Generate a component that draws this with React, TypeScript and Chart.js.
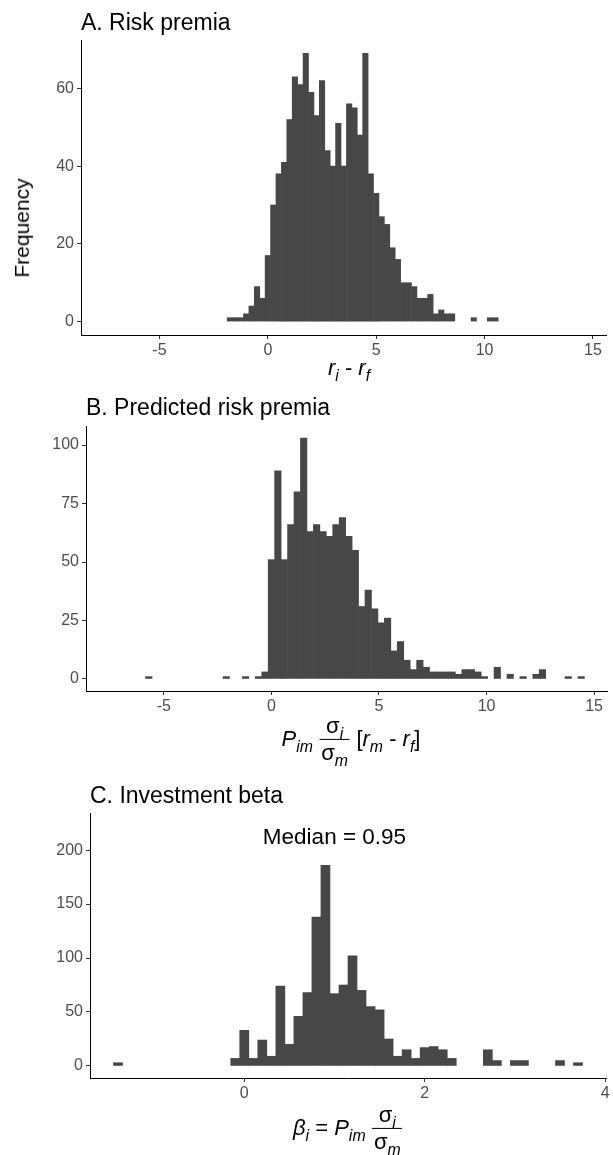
import React, { useEffect, useRef } from 'react';
import { Chart, registerables } from 'chart.js';

Chart.register(...registerables);

// ---------- Data ----------
// Panel A: risk premia histogram (bin centres, counts)
const riskPremiaBins = [
  -1.75, -1.5, -1.25, -1, -0.75, -0.5, -0.25, 0, 0.25, 0.5, 0.75, 1, 1.25, 1.5, 1.75, 2, 2.25, 2.5, 2.75, 3,
  3.25, 3.5, 3.75, 4, 4.25, 4.5, 4.75, 5, 5.25, 5.5, 5.75, 6, 6.25, 6.5, 6.75, 7, 7.25, 7.5, 7.75, 8,
  8.25, 8.5, 9.5, 10.25, 10.5,
];
const riskPremiaCounts = [
  1, 1, 1, 2, 4, 9, 6, 17, 30, 38, 41, 52, 63, 61, 69, 59, 53, 62, 44, 40,
  51, 40, 56, 55, 48, 69, 38, 33, 27, 25, 19, 16, 10, 10, 9, 6, 6, 7, 2, 3,
  2, 2, 1, 1, 1,
];
const riskPremiaYTicks = [0, 20, 40, 60];

// Panel B: predicted risk premia
const predictedBins = [
  -5.7, -2.1, -1.2, -0.6, -0.3, 0, 0.3, 0.6, 0.9, 1.2, 1.5, 1.8, 2.1, 2.4, 2.7, 3, 3.3, 3.6, 3.9, 4.2,
  4.5, 4.8, 5.1, 5.4, 5.7, 6, 6.3, 6.6, 6.9, 7.2, 7.5, 7.8, 8.1, 8.4, 8.7, 9, 9.3, 9.6, 9.9, 10.5,
  11.1, 11.7, 12.3, 12.6, 13.8, 14.4,
];
const predictedCounts = [
  1, 1, 1, 1, 3, 51, 89, 51, 66, 80, 103, 63, 66, 63, 61, 66, 69, 61, 55, 31,
  38, 30, 24, 26, 12, 16, 8, 4, 8, 5, 3, 3, 3, 3, 2, 4, 4, 3, 1, 5,
  2, 1, 2, 4, 1, 1,
];
const predictedYTicks = [0, 25, 50, 75, 100];

// Shared x ticks of panels A and B
const premiaXTicks = [-5, 0, 5, 10, 15];

// Panel C: investment beta
const betaBins = [
  -1.4, -0.1, 0, 0.1, 0.2, 0.3, 0.4, 0.5, 0.6, 0.7, 0.8, 0.9, 1, 1.1, 1.2, 1.3, 1.4, 1.5, 1.6, 1.7,
  1.8, 1.9, 2, 2.1, 2.2, 2.3, 2.7, 2.8, 3, 3.1, 3.5, 3.7,
];
const betaCounts = [
  3, 7, 33, 7, 24, 9, 74, 20, 46, 68, 138, 186, 67, 75, 102, 70, 55, 52, 25, 9,
  15, 7, 17, 18, 15, 7, 15, 5, 5, 5, 5, 3,
];
const betaXTicks = [0, 2, 4];
const betaYTicks = [0, 50, 100, 150, 200];
const betaMedian = 0.95;
const medianLabelX = 1;
const medianLabelY = 211;

// ---------- Styling ----------
const FONT = '"Liberation Sans", Arial, Helvetica, sans-serif';
const BAR_COLOR = '#474747';
const TICK_COLOR = '#4D4D4D';
const PAGE_W = 613;
const PAD_TOP = 15;
const X_AXIS_H = 34;

type Panel = {
  bins: number[];
  counts: number[];
  xMin: number;
  xMax: number;
  xTicks: number[];
  yMin: number;
  yMax: number;
  yTicks: number[];
  left: number;
  right: number;
  top: number;
  bottom: number;
  note?: { x: number; y: number; text: string };
};

function Histogram({ p }: { p: Panel }) {
  const ref = useRef<HTMLCanvasElement>(null);
  const h = p.bottom - p.top + PAD_TOP + X_AXIS_H;

  useEffect(() => {
    const canvas = ref.current;
    if (!canvas) return;
    const notePlugin = {
      id: 'panelNote',
      afterDatasetsDraw(chart: any) {
        if (!p.note) return;
        const { ctx, scales } = chart;
        const x = scales.x.getPixelForValue(p.note.x);
        const y = scales.y.getPixelForValue(p.note.y);
        ctx.save();
        ctx.font = `22.5px ${FONT}`;
        ctx.fillStyle = '#000';
        ctx.textAlign = 'center';
        ctx.textBaseline = 'middle';
        ctx.fillText(p.note.text, x, y);
        ctx.restore();
      },
    };
    const tickFont = { family: FONT, size: 16 };
    const chart = new Chart(canvas, {
      type: 'bar',
      data: {
        datasets: [
          {
            data: p.bins.map((b, i) => ({ x: b, y: p.counts[i] })),
            backgroundColor: BAR_COLOR,
            borderWidth: 0,
            barPercentage: 1,
            categoryPercentage: 1,
          } as any,
        ],
      },
      options: {
        animation: false,
        responsive: false,
        maintainAspectRatio: false,
        layout: { padding: { left: 0, right: PAGE_W - p.right, top: PAD_TOP, bottom: 0 } },
        plugins: { legend: { display: false }, tooltip: { enabled: false } },
        scales: {
          x: {
            type: 'linear',
            min: p.xMin,
            max: p.xMax,
            offset: false,
            grid: { display: true, drawOnChartArea: false, drawTicks: true, tickLength: 4, color: '#333333', lineWidth: 1, offset: false },
            border: { display: true, color: '#000000', width: 1 },
            ticks: {
              color: TICK_COLOR,
              font: tickFont,
              padding: 2,
              autoSkip: false,
              maxRotation: 0,
              minRotation: 0,
              callback: (v: any) => String(v),
            },
            afterBuildTicks: (axis: any) => {
              axis.ticks = p.xTicks.map((v) => ({ value: v }));
            },
            afterFit: (scale: any) => {
              scale.height = X_AXIS_H;
              scale.paddingLeft = 0;
              scale.paddingRight = 0;
            },
          },
          y: {
            type: 'linear',
            min: p.yMin,
            max: p.yMax,
            grid: { display: true, drawOnChartArea: false, drawTicks: true, tickLength: 4, color: '#333333', lineWidth: 1 },
            border: { display: true, color: '#000000', width: 1 },
            ticks: {
              color: TICK_COLOR,
              font: tickFont,
              padding: 3,
              autoSkip: false,
              callback: (v: any) => String(v),
            },
            afterBuildTicks: (axis: any) => {
              axis.ticks = p.yTicks.map((v) => ({ value: v }));
            },
            afterFit: (scale: any) => {
              scale.width = p.left;
              scale.paddingTop = 0;
              scale.paddingBottom = 0;
            },
          },
        },
      } as any,
      plugins: [notePlugin],
    });
    return () => chart.destroy();
  }, []);

  return (
    <canvas
      ref={ref}
      width={PAGE_W}
      height={h}
      style={{ position: 'absolute', left: 0, top: p.top - PAD_TOP, width: PAGE_W, height: h }}
    />
  );
}

const I = ({ children }: { children: any }) => <span style={{ fontStyle: 'italic' }}>{children}</span>;
const Sub = ({ children }: { children: any }) => (
  <span style={{ fontSize: '0.72em', position: 'relative', top: '0.38em', fontStyle: 'italic' }}>{children}</span>
);
const Frac = ({ num, den }: { num: any; den: any }) => (
  <span style={{ display: 'inline-flex', flexDirection: 'column', alignItems: 'stretch', margin: '0 0.3em', lineHeight: 1.05 }}>
    <span style={{ textAlign: 'center', padding: '0 0.08em 2px' }}>{num}</span>
    <span style={{ textAlign: 'center', padding: '1px 0.08em 0', borderTop: '1.3px solid #000' }}>{den}</span>
  </span>
);

const MathRow = ({ cx, cy, children }: { cx: number; cy: number; children: any }) => (
  <div
    style={{
      position: 'absolute',
      left: cx,
      top: cy,
      transform: 'translate(-50%, -50%)',
      display: 'flex',
      alignItems: 'center',
      fontFamily: FONT,
      fontSize: 22,
      whiteSpace: 'pre',
      color: '#000',
    }}
  >
    {children}
  </div>
);

const PanelTitle = ({ left, cy, text }: { left: number; cy: number; text: string }) => (
  <div
    style={{
      position: 'absolute',
      left,
      top: cy,
      transform: 'translateY(-50%)',
      fontFamily: FONT,
      fontSize: 23,
      lineHeight: 1,
      whiteSpace: 'nowrap',
      color: '#000',
    }}
  >
    {text}
  </div>
);

const panelA: Panel = {
  bins: riskPremiaBins,
  counts: riskPremiaCounts,
  xMin: -8.62,
  xMax: 15.6,
  xTicks: premiaXTicks,
  yMin: -3.45,
  yMax: 72.45,
  yTicks: riskPremiaYTicks,
  left: 81,
  right: 606,
  top: 40,
  bottom: 335,
};

const panelB: Panel = {
  bins: predictedBins,
  counts: predictedCounts,
  xMin: -8.62,
  xMax: 15.6,
  xTicks: premiaXTicks,
  yMin: -5.15,
  yMax: 108.15,
  yTicks: predictedYTicks,
  left: 86,
  right: 607,
  top: 426,
  bottom: 691,
};

const panelC: Panel = {
  bins: betaBins,
  counts: betaCounts,
  xMin: -1.71,
  xMax: 4.01,
  xTicks: betaXTicks,
  yMin: -11.16,
  yMax: 234.4,
  yTicks: betaYTicks,
  left: 90,
  right: 606,
  top: 813,
  bottom: 1078,
  note: { x: medianLabelX, y: medianLabelY, text: `Median = ${betaMedian}` },
};

export default function App() {
  return (
    <div
      style={{
        position: 'absolute',
        left: 0,
        top: 0,
        width: PAGE_W,
        height: 1155,
        overflow: 'hidden',
        background: '#ffffff',
      }}
    >
      <Histogram p={panelA} />
      <Histogram p={panelB} />
      <Histogram p={panelC} />

      <PanelTitle left={81} cy={22} text="A. Risk premia" />
      <PanelTitle left={86} cy={407} text="B. Predicted risk premia" />
      <PanelTitle left={90} cy={795} text="C. Investment beta" />

      <div
        style={{
          position: 'absolute',
          left: 22,
          top: 228,
          transform: 'translate(-50%, -50%) rotate(-90deg)',
          fontFamily: FONT,
          fontSize: 21,
          whiteSpace: 'nowrap',
          color: '#000',
        }}
      >
        Frequency
      </div>

      <MathRow cx={349} cy={368}>
        <span>
          <I>r</I>
          <Sub>i</Sub>
          {' - '}
          <I>r</I>
          <Sub>f</Sub>
        </span>
      </MathRow>

      <MathRow cx={351} cy={739}>
        <span>
          <I>P</I>
          <Sub>im</Sub>
        </span>
        <Frac
          num={
            <>
              σ<Sub>i</Sub>
            </>
          }
          den={
            <>
              σ<Sub>m</Sub>
            </>
          }
        />
        <span>
          [<I>r</I>
          <Sub>m</Sub>
          {' - '}
          <I>r</I>
          <Sub>f</Sub>]
        </span>
      </MathRow>

      <MathRow cx={351} cy={1128}>
        <span>
          <I>β</I>
          <Sub>i</Sub>
          {' = '}
          <I>P</I>
          <Sub>im</Sub>
        </span>
        <Frac
          num={
            <>
              σ<Sub>i</Sub>
            </>
          }
          den={
            <>
              σ<Sub>m</Sub>
            </>
          }
        />
      </MathRow>
    </div>
  );
}
